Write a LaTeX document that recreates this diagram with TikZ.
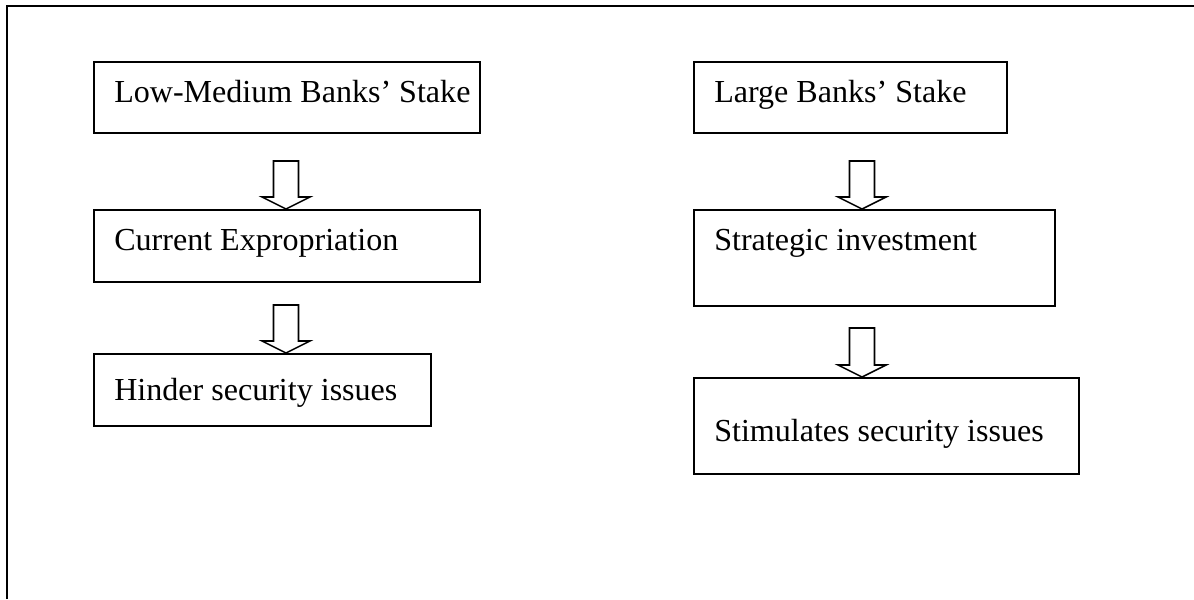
\documentclass[tikz,border=0pt]{standalone}
\usepackage{fontspec}
\setmainfont{Liberation Serif}
\usetikzlibrary{calc}

\begin{document}
\begin{tikzpicture}[
    x=0.025cm, y=-0.025cm, % one unit = one pixel, y going down
    % Styles
    stake/.style 2 args={ % Boxes
        rectangle,
        draw,
        line width=1.6pt,
        anchor=north west,
        inner sep=0pt,
        minimum width=#1*0.025cm,
        minimum height=#2*0.025cm
    },
    txt/.style={ % Text inside the boxes
        anchor=base west,
        inner sep=0pt,
        font=\fontsize{22.8}{27}\selectfont
    },
    hollow/.style={ % Hollow block arrows
        draw,
        line width=1.1pt,
        line join=miter,
        to path={($(\tikztostart)+(-12.5,0)$) -- ($(\tikztotarget)+(-12.5,-12)$)
            -- ++(-11.5,0) -- (\tikztotarget) -- ++(24,-12) -- ++(-11.5,0)
            -- ($(\tikztostart)+(12.5,0)$) -- cycle}
    }
]
    \useasboundingbox (0,0) rectangle (1194,599);

    % Frame
    \draw [line width=2.1pt] (7,599) -- (7,6) -- (1194,6);

    % Left column
    \node [stake={386}{71}] (lowmed) at (93,61) {};
    \node [stake={386}{72}] (curexp) at (93,209) {};
    \node [stake={337}{72}] (hinder) at (93,353) {};
    \node [txt] (lowmedt) at (114,102) {Low-Medium Banks’ Stake};
    \node [txt] (curexpt) at (114,250) {Current Expropriation};
    \node [txt] (hindert) at (114,400) {Hinder security issues};

    % Right column
    \node [stake={313}{71}] (large) at (693,61) {};
    \node [stake={361}{96}] (strat) at (693,209) {};
    \node [stake={385}{96}] (stim) at (693,377) {};
    \node [txt] (larget) at (714,102) {Large Banks’ Stake};
    \node [txt] (stratt) at (714,250) {Strategic investment};
    \node [txt] (stimt) at (714,441) {Stimulates security issues};

    % Arrows
    \coordinate (s1) at (286,161);
    \coordinate (s2) at (286,305);
    \coordinate (s3) at (862,161);
    \coordinate (s4) at (862,328);
    \draw [hollow] (s1) to (curexp.north -| s1);
    \draw [hollow] (s2) to (hinder.north -| s2);
    \draw [hollow] (s3) to (strat.north -| s3);
    \draw [hollow] (s4) to (stim.north -| s4);
\end{tikzpicture}
\end{document}
